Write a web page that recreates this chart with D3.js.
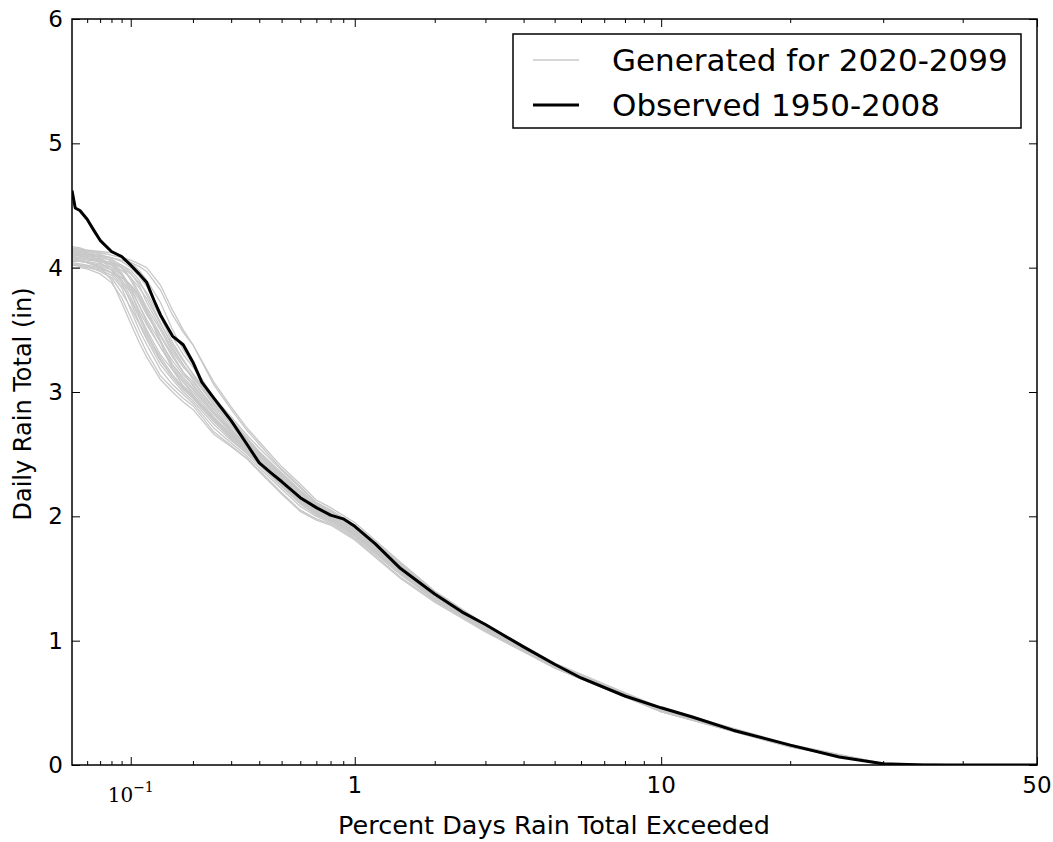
<!DOCTYPE html>
<html><head><meta charset="utf-8">
<script src="https://cdn.jsdelivr.net/npm/d3@7"></script>
<style>body{margin:0;background:#fff;} svg{display:block;}</style>
</head><body>
<svg id="chart" width="1053" height="842"></svg>
<script>
// ---------------- data ----------------
const yTicks = [0, 1, 2, 3, 4, 5, 6];
const xMajorTicks = [0.1, 1, 10, 50];
const xMajorLabels = ["10^-1", "1", "10", "50"];
const xMinorTicks = [0.06, 0.07, 0.08, 0.09, 0.2, 0.3, 0.4, 0.5, 0.6, 0.7, 0.8, 0.9,
                     2, 3, 4, 5, 6, 7, 8, 9, 20, 30, 40];
const xDomainPct = [0.05, 50];
const yDomain = [0, 6];
const seriesNames = ["Generated for 2020-2099", "Observed 1950-2008"];
const xLabel = "Percent Days Rain Total Exceeded";
const yLabel = "Daily Rain Total (in)";

const observedPct = [0.05, 0.052, 0.055, 0.06, 0.065, 0.07, 0.08, 0.09, 0.1, 0.11, 0.12, 0.13, 0.14, 0.16, 0.18,
  0.2, 0.22, 0.25, 0.3, 0.35, 0.4, 0.45, 0.5, 0.6, 0.7, 0.8, 0.9, 1, 1.2, 1.5, 2, 2.5, 3, 4, 5, 6, 8,
  10, 12, 15, 20, 25, 30, 35, 40, 50];
const observedRain = [4.62, 4.48, 4.46, 4.39, 4.30, 4.22, 4.13, 4.09, 4.02, 3.95, 3.88, 3.74, 3.62, 3.45, 3.38,
  3.24, 3.08, 2.95, 2.77, 2.59, 2.43, 2.35, 2.28, 2.15, 2.07, 2.01, 1.98, 1.92, 1.78, 1.58, 1.375, 1.23, 1.13, 0.95, 0.81, 0.70, 0.555,
  0.46, 0.386, 0.28, 0.16, 0.064, 0.01, 0, 0, 0];

const generatedPct = [0.05, 0.055, 0.06, 0.07, 0.08, 0.09, 0.1, 0.11, 0.12, 0.14, 0.16, 0.18,
  0.2, 0.25, 0.3, 0.35, 0.4, 0.5, 0.6, 0.7, 0.8, 1, 1.5, 2, 3, 5, 10, 20, 30, 40, 50];
const generatedRuns = [
  [4.15,4.14,4.13,4.12,4.10,4.08,4.06,4.03,4.00,3.86,3.66,3.50,3.38,3.06,2.86,2.70,2.58,2.38,2.24,2.11,2.05,1.93,1.62,1.39,1.12,0.81,0.45,0.160,0.010,0,0],
  [4.17,4.16,4.14,4.13,4.12,4.10,4.04,3.98,3.90,3.72,3.50,3.34,3.22,2.95,2.78,2.64,2.52,2.34,2.20,2.09,2.03,1.91,1.60,1.38,1.11,0.80,0.45,0.155,0.010,0,0],
  [4.12,4.11,4.10,4.08,4.06,4.00,3.92,3.80,3.68,3.50,3.32,3.20,3.12,2.90,2.74,2.62,2.50,2.32,2.18,2.07,2.01,1.89,1.58,1.37,1.11,0.80,0.44,0.155,0.008,0,0],
  [4.10,4.10,4.09,4.07,4.03,3.95,3.82,3.70,3.58,3.40,3.25,3.14,3.06,2.86,2.70,2.58,2.47,2.30,2.16,2.05,2.00,1.88,1.57,1.36,1.10,0.80,0.44,0.150,0.008,0,0],
  [4.14,4.12,4.10,4.06,4.00,3.90,3.76,3.62,3.50,3.30,3.18,3.08,3.00,2.80,2.66,2.55,2.45,2.28,2.14,2.04,1.98,1.87,1.56,1.35,1.10,0.79,0.44,0.150,0.007,0,0],
  [4.08,4.07,4.06,4.05,4.02,3.98,3.92,3.84,3.75,3.55,3.38,3.25,3.15,2.92,2.76,2.63,2.52,2.35,2.21,2.10,2.04,1.92,1.61,1.38,1.12,0.81,0.45,0.160,0.010,0,0],
  [4.05,4.05,4.04,4.02,3.98,3.88,3.72,3.56,3.44,3.25,3.12,3.02,2.95,2.76,2.63,2.53,2.43,2.26,2.12,2.02,1.97,1.85,1.55,1.34,1.09,0.79,0.44,0.150,0.006,0,0],
  [4.02,4.01,4.00,3.98,3.94,3.84,3.66,3.50,3.38,3.18,3.06,2.98,2.91,2.71,2.59,2.49,2.39,2.22,2.08,2.00,1.95,1.83,1.53,1.33,1.08,0.78,0.43,0.145,0.005,0,0],
  [4.00,4.00,3.99,3.95,3.88,3.76,3.60,3.45,3.32,3.13,3.03,2.95,2.89,2.68,2.57,2.47,2.37,2.19,2.05,1.98,1.94,1.82,1.51,1.32,1.08,0.78,0.43,0.145,0.005,0,0],
  [4.11,4.10,4.08,4.04,3.98,3.92,3.85,3.74,3.62,3.45,3.28,3.16,3.08,2.88,2.72,2.60,2.49,2.31,2.17,2.06,2.01,1.89,1.58,1.36,1.10,0.80,0.44,0.155,0.008,0,0],
  [4.06,4.06,4.05,4.03,4.00,3.94,3.86,3.76,3.64,3.42,3.22,3.10,3.02,2.82,2.68,2.56,2.46,2.28,2.15,2.04,1.99,1.87,1.57,1.36,1.10,0.79,0.44,0.150,0.007,0,0],
  [4.13,4.12,4.11,4.10,4.08,4.05,4.00,3.93,3.85,3.64,3.44,3.30,3.20,2.96,2.80,2.66,2.55,2.37,2.23,2.11,2.05,1.93,1.61,1.39,1.12,0.81,0.45,0.160,0.010,0,0],
  [4.04,4.03,4.02,4.00,3.96,3.90,3.80,3.66,3.54,3.36,3.20,3.08,2.98,2.78,2.64,2.54,2.44,2.27,2.13,2.03,1.98,1.86,1.55,1.34,1.09,0.79,0.44,0.150,0.006,0,0],
  [4.09,4.08,4.07,4.05,4.03,4.00,3.95,3.88,3.80,3.60,3.40,3.26,3.14,2.90,2.74,2.61,2.50,2.33,2.19,2.08,2.02,1.90,1.59,1.37,1.11,0.80,0.45,0.155,0.009,0,0],
  [4.16,4.15,4.14,4.11,4.07,4.02,3.96,3.86,3.72,3.52,3.34,3.22,3.10,2.86,2.70,2.58,2.48,2.30,2.16,2.06,2.00,1.88,1.58,1.36,1.10,0.80,0.44,0.155,0.008,0,0],
  [4.03,4.02,4.01,3.97,3.92,3.80,3.68,3.55,3.42,3.22,3.10,3.00,2.93,2.74,2.61,2.51,2.41,2.24,2.10,2.01,1.96,1.84,1.54,1.33,1.09,0.78,0.43,0.150,0.006,0,0],
  [4.12,4.11,4.10,4.09,4.08,4.06,4.04,4.01,3.97,3.82,3.62,3.48,3.38,3.08,2.88,2.72,2.60,2.40,2.26,2.13,2.07,1.95,1.63,1.40,1.13,0.82,0.46,0.165,0.012,0,0],
  [4.07,4.06,4.04,4.01,3.96,3.86,3.74,3.60,3.46,3.28,3.14,3.04,2.96,2.77,2.62,2.52,2.42,2.25,2.11,2.02,1.97,1.85,1.54,1.34,1.09,0.79,0.43,0.150,0.006,0,0],
  [4.06,4.05,4.04,4.00,3.90,3.72,3.55,3.40,3.28,3.10,3.00,2.92,2.86,2.66,2.56,2.47,2.36,2.18,2.04,1.97,1.93,1.81,1.50,1.31,1.07,0.78,0.43,0.145,0.005,0,0],
  [4.10,4.09,4.08,4.06,4.04,4.01,3.90,3.78,3.66,3.46,3.30,3.16,3.05,2.84,2.69,2.57,2.46,2.29,2.15,2.05,1.99,1.87,1.57,1.35,1.10,0.79,0.44,0.150,0.007,0,0],
  [4.14,4.13,4.12,4.10,4.05,3.96,3.84,3.70,3.56,3.36,3.22,3.12,3.03,2.83,2.67,2.56,2.45,2.27,2.13,2.03,1.98,1.86,1.56,1.35,1.10,0.79,0.44,0.150,0.007,0,0],
  [4.02,4.02,4.01,3.99,3.96,3.92,3.86,3.78,3.66,3.40,3.18,3.05,2.97,2.79,2.65,2.55,2.44,2.26,2.12,2.03,1.97,1.85,1.55,1.34,1.09,0.79,0.44,0.150,0.006,0,0],
  [4.15,4.14,4.12,4.08,4.02,3.94,3.80,3.64,3.48,3.26,3.12,3.03,2.97,2.79,2.65,2.54,2.44,2.27,2.13,2.03,1.98,1.86,1.56,1.35,1.09,0.79,0.44,0.150,0.006,0,0],
  [4.08,4.08,4.07,4.06,4.04,4.02,3.98,3.90,3.78,3.56,3.36,3.22,3.12,2.90,2.75,2.62,2.51,2.34,2.20,2.09,2.03,1.91,1.60,1.38,1.11,0.80,0.45,0.155,0.009,0,0]
];

// ---------------- helpers ----------------
function probit(p) {
  const a=[-3.969683028665376e+01,2.209460984245205e+02,-2.759285104469687e+02,1.383577518672690e+02,-3.066479806614716e+01,2.506628277459239e+00];
  const b=[-5.447609879822406e+01,1.615858368580409e+02,-1.556989798598866e+02,6.680131188771972e+01,-1.328068155288572e+01];
  const c=[-7.784894002430293e-03,-3.223964580411365e-01,-2.400758277161838e+00,-2.549732539343734e+00,4.374664141464968e+00,2.938163982698783e+00];
  const d=[7.784695709041462e-03,3.224671290700398e-01,2.445134137142996e+00,3.754408661907416e+00];
  const pl = 0.02425;
  let q, r;
  if (p < pl) { q = Math.sqrt(-2*Math.log(p)); return (((((c[0]*q+c[1])*q+c[2])*q+c[3])*q+c[4])*q+c[5])/((((d[0]*q+d[1])*q+d[2])*q+d[3])*q+1); }
  if (p <= 1-pl) { q = p-0.5; r = q*q; return (((((a[0]*r+a[1])*r+a[2])*r+a[3])*r+a[4])*r+a[5])*q/(((((b[0]*r+b[1])*r+b[2])*r+b[3])*r+b[4])*r+1); }
  q = Math.sqrt(-2*Math.log(1-p)); return -(((((c[0]*q+c[1])*q+c[2])*q+c[3])*q+c[4])*q+c[5])/((((d[0]*q+d[1])*q+d[2])*q+d[3])*q+1);
}

const L = 72, R = 1037, T = 19, B = 765;
const W = R - L, H = B - T;

// probability (normal-quantile) scale on percent
const zLin = d3.scaleLinear().domain(xDomainPct.map(v => probit(v/100))).range([0, W]);
function xScale(v) { return zLin(probit(v/100)); }
xScale.copy = () => xScale;
xScale.range = () => zLin.range();
xScale.domain = () => xDomainPct;

const yScale = d3.scaleLinear().domain(yDomain).range([H, 0]);

const svg = d3.select("#chart");
svg.append("rect").attr("width",1053).attr("height",842).attr("fill","#fff");
const g = svg.append("g").attr("transform", `translate(${L},${T})`);

svg.append("defs").append("clipPath").attr("id","clip")
  .append("rect").attr("x",0).attr("y",0).attr("width",W).attr("height",H);

const font = "'DejaVu Sans', sans-serif";

// lines
const plot = g.append("g").attr("clip-path","url(#clip)");
const lineGen = d3.line().x(d => xScale(d[0])).y(d => yScale(d[1]));

generatedRuns.forEach(run => {
  plot.append("path")
    .datum(generatedPct.map((p, i) => [p, run[i]]))
    .attr("d", lineGen)
    .attr("fill","none").attr("stroke","#c8c8c8").attr("stroke-width",1.3);
});
plot.append("path")
  .datum(observedPct.map((p, i) => [p, observedRain[i]]))
  .attr("d", lineGen)
  .attr("fill","none").attr("stroke","#000").attr("stroke-width",3)
  .attr("stroke-linejoin","round");

// axes (inward ticks, mirrored)
function styleAxis(sel) {
  sel.select(".domain").remove();
  sel.selectAll("line").attr("stroke","#000").attr("stroke-width",1);
}
g.append("g").attr("transform",`translate(0,${H})`)
  .call(d3.axisBottom(xScale).tickValues(xMajorTicks).tickSizeInner(-8).tickSizeOuter(0).tickFormat(""))
  .call(styleAxis);
g.append("g").attr("transform",`translate(0,${H})`)
  .call(d3.axisBottom(xScale).tickValues(xMinorTicks).tickSizeInner(-4).tickSizeOuter(0).tickFormat(""))
  .call(styleAxis);
g.append("g")
  .call(d3.axisTop(xScale).tickValues(xMajorTicks).tickSizeInner(-8).tickSizeOuter(0).tickFormat(""))
  .call(styleAxis);
g.append("g")
  .call(d3.axisTop(xScale).tickValues(xMinorTicks).tickSizeInner(-4).tickSizeOuter(0).tickFormat(""))
  .call(styleAxis);

const yAxisL = g.append("g")
  .call(d3.axisLeft(yScale).tickValues(yTicks).tickSizeInner(-8).tickSizeOuter(0).tickPadding(9).tickFormat(d3.format("d")))
  .call(styleAxis);
yAxisL.selectAll("text").attr("font-family", font).attr("font-size", 23).attr("fill","#000");
g.append("g").attr("transform",`translate(${W},0)`)
  .call(d3.axisRight(yScale).tickValues(yTicks).tickSizeInner(-8).tickSizeOuter(0).tickFormat(""))
  .call(styleAxis);

// x tick labels
xMajorTicks.forEach((v, i) => {
  const lab = xMajorLabels[i];
  if (lab.includes("^")) {
    const [base, exp] = lab.split("^");
    const t = g.append("text").attr("x", xScale(v)).attr("y", H + 37)
      .attr("text-anchor","middle").attr("font-family","'DejaVu Serif', 'Liberation Serif', serif")
      .attr("font-size", 20).attr("fill","#000");
    t.append("tspan").text(base);
    t.append("tspan").attr("dy", -10).attr("font-size", 14).text(exp.replace("-", "\u2212"));
  } else {
    g.append("text").attr("x", xScale(v)).attr("y", H + 28)
      .attr("text-anchor","middle").attr("font-family", font).attr("font-size", 23)
      .attr("fill","#000").text(lab);
  }
});

// frame
g.append("rect").attr("x",0).attr("y",0).attr("width",W).attr("height",H)
  .attr("fill","none").attr("stroke","#000").attr("stroke-width",1.5);

// axis labels
svg.append("text").attr("x", 554).attr("y", 834).attr("text-anchor","middle")
  .attr("font-family", font).attr("font-size", 25.5).attr("fill","#000").text(xLabel);
svg.append("text").attr("transform", `translate(31,${T + H/2 + 12}) rotate(-90)`).attr("text-anchor","middle")
  .attr("font-family", font).attr("font-size", 24).attr("fill","#000").text(yLabel);

// legend
const lg = svg.append("g");
lg.append("rect").attr("x",513).attr("y",34).attr("width",508).attr("height",94)
  .attr("fill","#fff").attr("stroke","#000").attr("stroke-width",1.5);
const legendStyles = [{stroke:"#c8c8c8", w:1.3}, {stroke:"#000", w:3}];
seriesNames.forEach((name, i) => {
  const yy = 60 + i*45;
  lg.append("line").attr("x1",533).attr("x2",579).attr("y1",yy).attr("y2",yy)
    .attr("stroke", legendStyles[i].stroke).attr("stroke-width", legendStyles[i].w);
  lg.append("text").attr("x",612).attr("y", yy + 11).attr("font-family", font)
    .attr("font-size", 31).attr("fill","#000").text(name);
});
</script>
</body></html>
